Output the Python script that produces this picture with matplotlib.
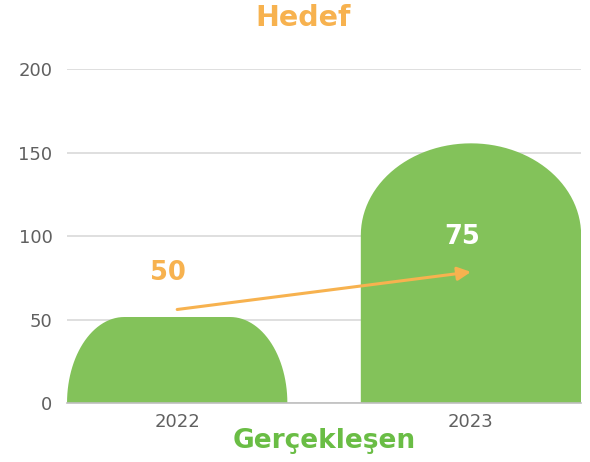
import numpy as np
import matplotlib
matplotlib.use('Agg')
import matplotlib.pyplot as plt
from matplotlib.path import Path
from matplotlib.patches import PathPatch

plt.rcParams['font.family'] = ['DejaVu Sans']

years = ['2022', '2023']
actual = [51.5, 155.5]      # Gerçekleşen
target = [50, 75]           # Hedef

green = '#83c25a'
green_txt = '#6abd45'
orange = '#f7b24f'


def rounded_bar(ax, x, h, w, rx, ry, color):
    # bar with elliptical top corners, rx in x units, ry in y units
    ry = min(ry, h)
    t = np.linspace(0, np.pi / 2, 30)
    left = x - w / 2
    right = x + w / 2
    verts = [(left, 0), (left, h - ry)]
    # top-left corner
    verts += list(zip(left + rx - rx * np.cos(t), h - ry + ry * np.sin(t)))
    # top-right corner
    verts += list(zip(right - rx + rx * np.sin(t), h - ry + ry * np.cos(t)))
    verts += [(right, 0), (left, 0)]
    codes = [Path.MOVETO] + [Path.LINETO] * (len(verts) - 2) + [Path.CLOSEPOLY]
    ax.add_patch(PathPatch(Path(verts, codes), facecolor=color, edgecolor='none', zorder=2))


fig = plt.figure(figsize=(5.9, 4.62), dpi=100)
ax = fig.add_axes([0.1136, 0.1277, 0.8714, 0.7229])

width = 0.75
xs = np.arange(len(years))
corner = [(0.195, 52), (0.375, 55)]
for x, h, (rx, ry) in zip(xs, actual, corner):
    rounded_bar(ax, x, h, width, rx, ry, green)

ax.set_xlim(-0.375, 1.375)
ax.set_ylim(0, 200)
ax.set_yticks([0, 50, 100, 150, 200])
ax.set_xticks(xs)
ax.set_xticklabels(years)
ax.tick_params(length=0, labelsize=13, colors='#606060', pad=7)
ax.tick_params(axis='y', pad=10.5)
ax.grid(axis='y', color='#d9d9d9', linewidth=1.2, zorder=0)
ax.set_axisbelow(True)
for s in ['top', 'right', 'left']:
    ax.spines[s].set_visible(False)
ax.spines['bottom'].set_color('#bfbfbf')
ax.spines['bottom'].set_linewidth(1.2)

# target arrow
ax.annotate('', xy=(xs[1], target[1] + 3.5), xytext=(xs[0], target[0] + 6),
            arrowprops=dict(arrowstyle='-|>', color=orange, lw=2.2,
                            mutation_scale=20, shrinkA=0, shrinkB=0), zorder=3)
ax.text(xs[0] - 0.03, target[0] + 28, str(target[0]), color=orange, fontsize=18.5,
        fontweight='bold', ha='center', va='center')
ax.text(xs[1] - 0.03, target[1] + 24.5, str(target[1]), color='white', fontsize=18.5,
        fontweight='bold', ha='center', va='center', zorder=4)

fig.text(0.513, 0.961, 'Hedef', color=orange, fontsize=20.5, fontweight='bold',
         ha='center', va='center')
fig.text(0.549, 0.045, 'Gerçekleşen', color=green_txt, fontsize=19, fontweight='bold',
         ha='center', va='center')

fig.savefig('out.png', dpi=100)
